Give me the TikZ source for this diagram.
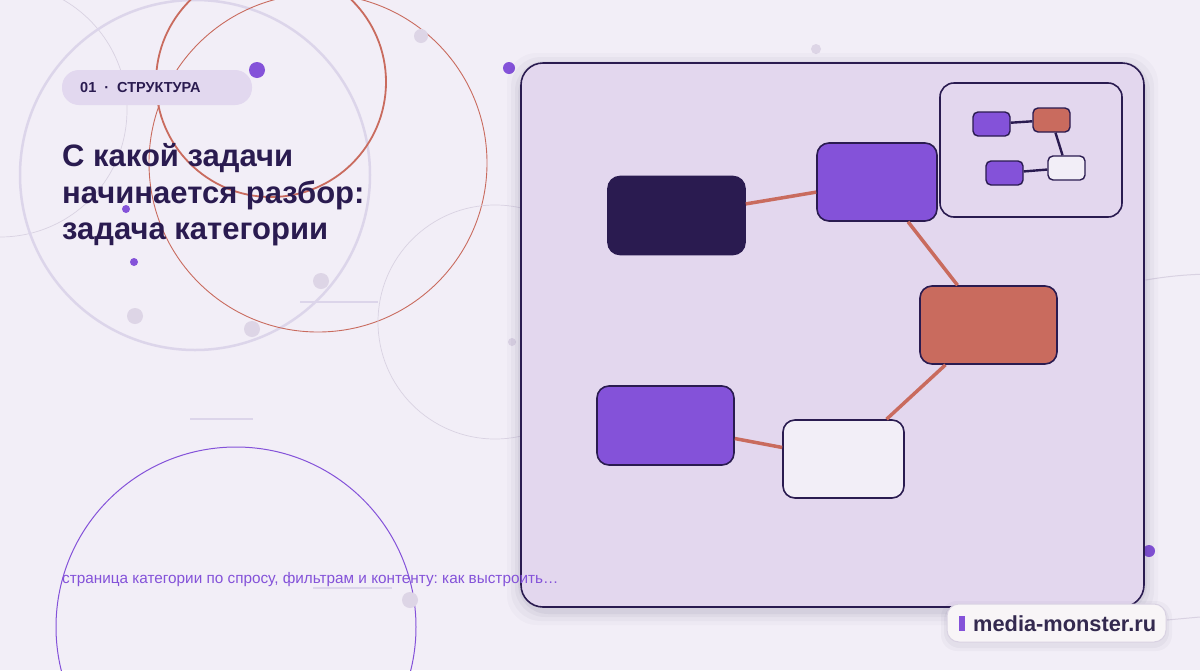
\documentclass[tikz,border=0pt]{standalone}
\usepackage{fontspec}
\setmainfont{Liberation Sans}
\usetikzlibrary{positioning}
\frenchspacing

\definecolor{bgcol}{HTML}{F2EEF7}
\definecolor{panelcol}{HTML}{E3D7EE}
\definecolor{inkcol}{HTML}{2A1B50}
\definecolor{violetcol}{HTML}{8452D9}
\definecolor{rustcol}{HTML}{C96B5E}
\definecolor{ringcol}{HTML}{DCD5EA}
\definecolor{thincol}{HTML}{D9D2E2}
\definecolor{dotcol}{HTML}{DDD5E6}
\definecolor{pillcol}{HTML}{E2D8EF}
\definecolor{badgecol}{HTML}{F8F5F7}
\definecolor{brandcol}{HTML}{33294F}

\tikzset{
  block/.style={draw=inkcol, line width=1.6pt, rounded corners=12pt,
    minimum width=137pt, minimum height=78pt, inner sep=0pt},
  miniblock/.style={draw=inkcol, line width=1.4pt, rounded corners=5pt,
    minimum width=37pt, minimum height=24pt, inner sep=0pt},
  link/.style={draw=rustcol, line width=3.5pt},
  minilink/.style={draw=inkcol, line width=2.4pt},
  bigdot/.style={fill=dotcol},
  hotdot/.style={fill=violetcol},
  rule/.style={draw=ringcol, line width=1.5pt},
  headline/.style={anchor=base west, inner sep=0pt, text=inkcol,
    font=\bfseries\fontsize{31}{37}\selectfont}
}

\begin{document}
\begin{tikzpicture}[x=1pt,y=-1pt]
% page
\fill[bgcol] (0,0) rectangle (1200,670);
\useasboundingbox (0,0) rectangle (1200,670);

% rings in the back
\draw[thincol, line width=0.7pt] (0,110) circle (127);
\draw[ringcol, line width=2.5pt] (195,175) circle (175);
\draw[rustcol, line width=1.8pt] (271,82) circle (115);
\draw[rustcol, line width=0.9pt] (318,163) circle (169);
\draw[thincol, line width=0.7pt] (495,322) circle (117);
\draw[violetcol, line width=1pt] (236,627) circle (180);
\draw[thincol, line width=1pt] (1215,674) ++(260:400) arc (260:285:400);
\draw[thincol, line width=1pt] (1167,620) -- (1200,617);

% short rules
\draw[rule] (190,419) -- (253,419);
\draw[rule] (313,588) -- (392,588);
\draw[rule] (300,302) -- (378,302);

% dots
\fill[hotdot] (257,70) circle (8);
\fill[bigdot] (421,36) circle (7);
\fill[hotdot] (509,68) circle (6);
\fill[bigdot] (816,49) circle (5);
\fill[hotdot] (126,209) circle (4);
\fill[hotdot] (134,262) circle (4);
\fill[bigdot] (321,281) circle (8);
\fill[bigdot] (135,316) circle (8);
\fill[bigdot] (252,329) circle (8);
\fill[bigdot] (512,342) circle (4);
\fill[bigdot] (410,600) circle (8);
\fill[hotdot] (1149,551) circle (6);

% tag and headline
\node[fill=pillcol, rounded corners=17pt, minimum width=190pt, minimum height=35pt]
  (tag) at (157,87.5) {};
\node[anchor=base west, inner sep=0pt, text=inkcol, font=\bfseries\fontsize{14.5}{16}\selectfont]
  (tagtext) at (80,92.5) {01\hspace{8pt}·\hspace{8pt}СТРУКТУРА};
\node[headline] (head1) at (62,166) {С какой задачи};
\node[headline] (head2) at (62,203) {начинается разбор:};
\node[headline] (head3) at (62,239) {задача категории};

% panel with soft shadow
\foreach \g/\o in {14/0.025,10/0.03,6/0.04,3/0.05}
  \fill[inkcol, opacity=\o, rounded corners=30pt] (521-\g,63-\g+4) rectangle (1144+\g,607+\g+4);
\draw[fill=panelcol, draw=inkcol, line width=1.6pt, rounded corners=22pt]
  (521,63) rectangle (1144,607);

% lead line runs over the panel edge
\node[anchor=base west, inner sep=0pt, text=violetcol, font=\fontsize{15.3}{18}\selectfont]
  (lead) at (62,583) {страница категории по спросу, фильтрам и контенту: как выстроить…};

% main diagram
\node[block, fill=inkcol] (goal) at (676.5,215.5) {};
\node[block, fill=violetcol, minimum width=120pt] (demand) at (877,182) {};
\node[block, fill=rustcol] (filters) at (988.5,325) {};
\node[block, fill=violetcol, minimum height=79pt] (content) at (665.5,425.5) {};
\node[block, fill=bgcol, minimum width=121pt] (page) at (843.5,459) {};
\draw[link] (goal) -- (demand);
\draw[link] (demand) -- (filters);
\draw[link] (filters) -- (page);
\draw[link] (content) -- (page);

% inset map
\draw[draw=inkcol, line width=1.6pt, rounded corners=14pt] (940,83) rectangle (1122,217);
\node[miniblock, fill=violetcol] (ma) at (991.5,124) {};
\node[miniblock, fill=rustcol] (mb) at (1051.5,120) {};
\node[miniblock, fill=violetcol] (mc) at (1004.5,173) {};
\node[miniblock, fill=bgcol] (md) at (1066.5,168) {};
\draw[minilink] (ma) -- (mb);
\draw[minilink] (mb) -- (md);
\draw[minilink] (mc) -- (md);

% brand badge
\foreach \g/\o in {6/0.03,3/0.04}
  \fill[inkcol, opacity=\o, rounded corners=16pt] (947-\g,604-\g+3) rectangle (1166+\g,642+\g+3);
\node[fill=badgecol, draw=thincol, line width=1pt, rounded corners=12pt,
  minimum width=219pt, minimum height=38pt, inner sep=0pt] (badge) at (1056.5,623) {};
\fill[violetcol] (959,616) rectangle (965,631);
\node[anchor=base west, inner sep=0pt, text=brandcol, font=\bfseries\fontsize{21.8}{24}\selectfont]
  (brand) at (973,631) {media-monster.ru};
\end{tikzpicture}
\end{document}
